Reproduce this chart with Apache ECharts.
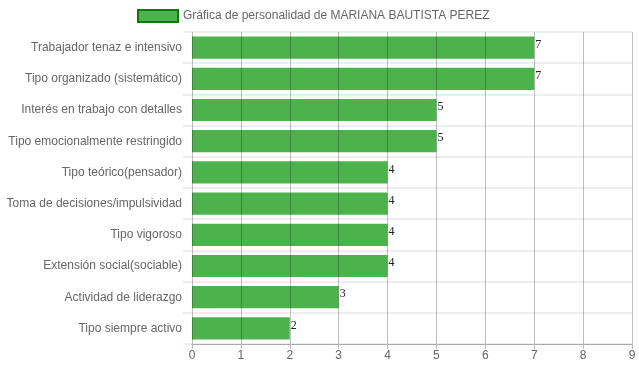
<!DOCTYPE html>
<html><head><meta charset="utf-8">
<script src="https://cdn.jsdelivr.net/npm/echarts@6/dist/echarts.min.js"></script>
<style>html,body{margin:0;padding:0;background:#fff}#c{width:639px;height:372px}</style>
</head><body><div id="c"></div>
<script>
const seriesName = 'Gráfica de personalidad de MARIANA BAUTISTA PEREZ';
const categories = [
  'Trabajador tenaz e intensivo',
  'Tipo organizado (sistemático)',
  'Interés en trabajo con detalles',
  'Tipo emocionalmente restringido',
  'Tipo teórico(pensador)',
  'Toma de decisiones/impulsividad',
  'Tipo vigoroso',
  'Extensión social(sociable)',
  'Actividad de liderazgo',
  'Tipo siempre activo'
];
const values = [7, 7, 5, 5, 4, 4, 4, 4, 3, 2];
const xTicks = [0, 1, 2, 3, 4, 5, 6, 7, 8, 9];

const chart = echarts.init(document.getElementById('c'));
chart.setOption({
  animation: false,
  textStyle: {fontFamily: 'Liberation Sans, Arial, sans-serif'},
  legend: {
    top: 4, left: 132,
    itemWidth: 40, itemHeight: 12, itemGap: 7,
    textStyle: {color: '#666', fontSize: 12},
    data: [{name: seriesName, icon: 'rect', itemStyle: {color: '#4cb34c', borderColor: '#0b7a0b', borderWidth: 2}}]
  },
  grid: {left: 192, right: 7, top: 32, bottom: 28, containLabel: false},
  xAxis: {
    type: 'value', min: xTicks[0], max: xTicks[xTicks.length - 1], interval: 1, z: 5,
    axisLine: {show: true, lineStyle: {color: '#aaa'}},
    axisTick: {show: true, length: 5, lineStyle: {color: '#bbb'}},
    axisLabel: {color: '#666', fontSize: 12, margin: 6},
    splitLine: {show: true, lineStyle: {color: 'rgba(0,0,0,0.25)', width: 1}}
  },
  yAxis: {
    type: 'category', data: categories, inverse: true,
    axisLine: {show: false},
    axisTick: {show: true, length: 9, alignWithLabel: false, lineStyle: {color: '#eee', width: 2}},
    axisLabel: {color: '#666', fontSize: 12, margin: 10},
    splitLine: {show: true, lineStyle: {color: '#eee', width: 2}}
  },
  series: [{
    name: seriesName, type: 'bar', data: values, barCategoryGap: '29%',
    itemStyle: {color: '#4cb34c'},
    label: {show: true, position: 'right', distance: 1, color: '#222', fontSize: 12, fontFamily: 'Liberation Serif, Times New Roman, serif', offset: [0, -3]}
  }]
});
</script></body></html>
